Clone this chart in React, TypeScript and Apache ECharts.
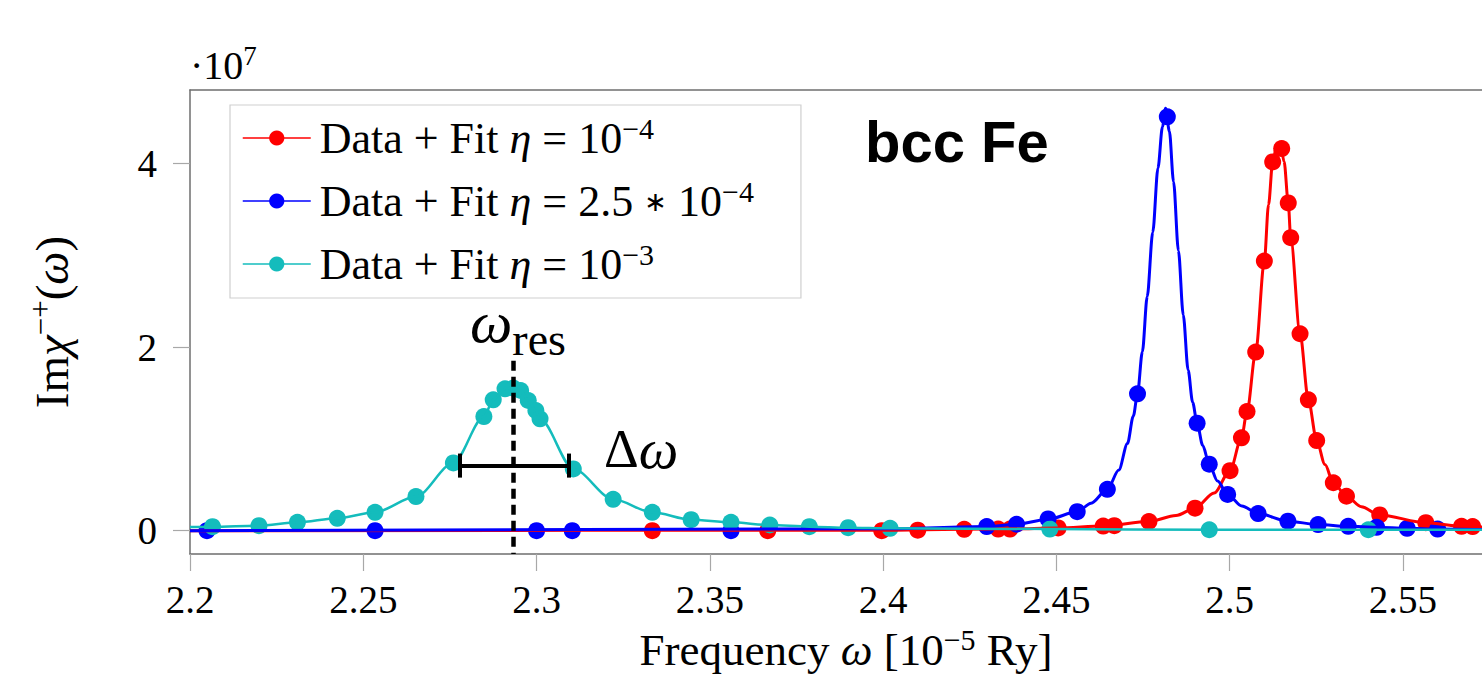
import React, { useEffect, useRef } from "react";
import * as echarts from "echarts";

const SERIF = "'Liberation Serif', 'Times New Roman', serif";
const SANS = "'Liberation Sans', Arial, sans-serif";

// axis ticks (x in 10^-5 Ry, y in 10^7)
const xTicks = [2.2, 2.25, 2.3, 2.35, 2.4, 2.45, 2.5, 2.55];
const yTicks = [0, 2, 4];
const xRange = [2.2, 2.5728];
const yRange = [-0.254, 4.8];

const seriesNames = [
  "Data + Fit η = 10⁻⁴",
  "Data + Fit η = 2.5 ∗ 10⁻⁴",
  "Data + Fit η = 10⁻³",
];
const legendRich = [
  "{t|Data + Fit }{i|η}{t| = 10}{s|−4}",
  "{t|Data + Fit }{i|η}{t| = 2.5 }{a|∗}{t| 10}{s|−4}",
  "{t|Data + Fit }{i|η}{t| = 10}{s|−3}",
];
const colors = ["#ff0000", "#0000ff", "#14bcbc"];

// eta = 1e-4 (red) data points
const redX = [2.3334, 2.3667, 2.3996, 2.41, 2.4234, 2.4332, 2.4366, 2.4505, 2.4635, 2.4667, 2.4767, 2.49, 2.5001, 2.5034, 2.505, 2.5075, 2.51, 2.5124, 2.515, 2.5169, 2.5176, 2.5203, 2.5227, 2.5251, 2.5299, 2.5337, 2.5433, 2.5566, 2.5669, 2.5701];
const redY = [0, 0, 0, 0.006, 0.015, 0.018, 0.018, 0.03, 0.05, 0.055, 0.1, 0.245, 0.654, 1.011, 1.298, 1.945, 2.937, 4.017, 4.162, 3.57, 3.192, 2.145, 1.425, 0.981, 0.522, 0.375, 0.171, 0.087, 0.047, 0.045];
// red fit curve
const redFitX = [2.2, 2.4, 2.4234, 2.4366, 2.4505, 2.4635, 2.4767, 2.4845, 2.49, 2.4955, 2.5001, 2.5034, 2.505, 2.5075, 2.51, 2.5112, 2.5124, 2.5136, 2.5146, 2.5157, 2.5169, 2.5176, 2.5203, 2.5227, 2.5251, 2.5275, 2.5299, 2.5337, 2.538, 2.5433, 2.5566, 2.5669, 2.5728];
const redFitY = [0, 0.005, 0.015, 0.02, 0.03, 0.05, 0.1, 0.165, 0.245, 0.41, 0.654, 1.011, 1.298, 1.945, 2.937, 3.55, 4.017, 4.2, 4.22, 4.02, 3.57, 3.192, 2.145, 1.425, 0.981, 0.72, 0.522, 0.375, 0.26, 0.171, 0.087, 0.047, 0.04];

// eta = 2.5e-4 (blue) data points
const blueX = [2.2049, 2.2534, 2.3, 2.3103, 2.3561, 2.4299, 2.4385, 2.4476, 2.456, 2.4647, 2.4734, 2.482, 2.4906, 2.4941, 2.4994, 2.5082, 2.5168, 2.5255, 2.5342, 2.5424, 2.5512, 2.56];
const blueY = [0, 0, 0, 0, 0, 0.045, 0.07, 0.128, 0.207, 0.45, 1.491, 4.508, 1.171, 0.724, 0.395, 0.186, 0.104, 0.066, 0.047, 0.037, 0.026, 0.018];
// blue fit curve
const blueFitX = [2.2, 2.4, 2.4299, 2.4385, 2.4476, 2.456, 2.46, 2.4647, 2.468, 2.4705, 2.4722, 2.4734, 2.4748, 2.4762, 2.4778, 2.4793, 2.4806, 2.4815, 2.4826, 2.4838, 2.4852, 2.4866, 2.488, 2.4893, 2.4906, 2.4922, 2.4941, 2.4965, 2.4994, 2.5035, 2.5082, 2.5168, 2.5255, 2.5342, 2.5424, 2.5512, 2.56, 2.5728];
const blueFitY = [0, 0.02, 0.045, 0.07, 0.125, 0.205, 0.3, 0.45, 0.66, 0.95, 1.25, 1.491, 1.95, 2.55, 3.25, 3.95, 4.4, 4.6, 4.35, 3.8, 3.05, 2.35, 1.75, 1.4, 1.171, 0.93, 0.724, 0.54, 0.395, 0.27, 0.186, 0.104, 0.066, 0.047, 0.037, 0.026, 0.018, 0.012];

// eta = 1e-3 (cyan) data points
const cyanX = [2.2065, 2.2199, 2.231, 2.2425, 2.2534, 2.2652, 2.276, 2.2848, 2.2875, 2.2909, 2.2933, 2.2954, 2.2976, 2.2998, 2.301, 2.3106, 2.3221, 2.3334, 2.3446, 2.3561, 2.3673, 2.3787, 2.3899, 2.402, 2.4481, 2.4941, 2.54];
const cyanY = [0.044, 0.055, 0.091, 0.135, 0.2, 0.371, 0.738, 1.243, 1.425, 1.545, 1.553, 1.527, 1.418, 1.309, 1.218, 0.673, 0.342, 0.2, 0.12, 0.091, 0.062, 0.044, 0.033, 0.026, 0.018, 0.01, 0.01];
// cyan fit curve
const cyanFitX = [2.2, 2.2065, 2.2199, 2.231, 2.2425, 2.2534, 2.2652, 2.276, 2.2848, 2.2875, 2.2909, 2.2933, 2.2954, 2.2976, 2.2998, 2.301, 2.3106, 2.3221, 2.3334, 2.3446, 2.3561, 2.3673, 2.3787, 2.3899, 2.402, 2.4481, 2.4941, 2.54, 2.5728];
const cyanFitY = [0.04, 0.044, 0.055, 0.091, 0.135, 0.2, 0.371, 0.738, 1.243, 1.425, 1.545, 1.56, 1.527, 1.418, 1.309, 1.218, 0.673, 0.342, 0.2, 0.12, 0.091, 0.062, 0.044, 0.033, 0.026, 0.018, 0.01, 0.01, 0.01];

// annotation values
const omegaRes = 2.2933;
const dashTop = 1.85;
const deltaLeft = 2.2777;
const deltaRight = 2.3092;
const deltaY = 0.709;
const capHalf = 0.131;

const zip = (xs: number[], ys: number[]) => xs.map((x, i) => [x, ys[i]]);

const textRich = (size: number, supSize: number) => ({
  t: { fontSize: size, fontFamily: SERIF, color: "#000", lineHeight: size + 6 },
  i: { fontSize: size, fontFamily: SERIF, fontStyle: "italic", color: "#000", lineHeight: size + 6 },
  a: { fontSize: size * 0.62, fontFamily: "'DejaVu Sans', sans-serif", color: "#000", lineHeight: size + 6 },
  s: { fontSize: supSize, fontFamily: SERIF, color: "#000", lineHeight: supSize * 0.7, verticalAlign: "top" },
});

export default function App() {
  const ref = useRef<HTMLDivElement>(null);

  useEffect(() => {
    document.body.style.margin = "0";
    const chart = echarts.init(ref.current!, undefined, { renderer: "svg" });

    const fits = [
      [redFitX, redFitY, redX, redY, 3],
      [blueFitX, blueFitY, blueX, blueY, 3],
      [cyanFitX, cyanFitY, cyanX, cyanY, 2.5],
    ] as any[];

    const series: any[] = [];
    fits.forEach((f, k) => {
      series.push({
        type: "line",
        name: seriesNames[k],
        data: zip(f[0], f[1]),
        symbol: "none",
        smooth: 0.3,
        smoothMonotone: "x",
        lineStyle: { color: colors[k], width: f[4] },
        itemStyle: { color: colors[k] },
        silent: true,
      });
      const s: any = {
        type: "scatter",
        name: seriesNames[k] + " (data)",
        data: zip(f[2], f[3]),
        symbol: "circle",
        symbolSize: 17,
        itemStyle: { color: colors[k], opacity: 1 },
        silent: true,
      };
      if (k === 2) {
        const black = "#000";
        s.markLine = {
          silent: true,
          symbol: "none",
          label: { show: false },
          animation: false,
          data: [
            [
              { coord: [omegaRes, dashTop], lineStyle: { color: black, width: 4.5, type: [10, 6] } },
              { coord: [omegaRes, yRange[0]] },
            ],
            [
              { coord: [deltaLeft, deltaY], lineStyle: { color: black, width: 4, type: "solid" } },
              { coord: [deltaRight, deltaY] },
            ],
            [
              { coord: [deltaLeft, deltaY - capHalf], lineStyle: { color: black, width: 4, type: "solid" } },
              { coord: [deltaLeft, deltaY + capHalf] },
            ],
            [
              { coord: [deltaRight, deltaY - capHalf], lineStyle: { color: black, width: 4, type: "solid" } },
              { coord: [deltaRight, deltaY + capHalf] },
            ],
          ],
        };
      }
      series.push(s);
    });

    const axisLineStyle = { color: "#6e6e6e", width: 1.5 };
    const tickStyle = { color: "#a8a8a8", width: 1.2 };

    chart.setOption({
      animation: false,
      backgroundColor: "#ffffff",
      grid: { left: 190, right: 0, top: 90, bottom: 122, containLabel: false },
      legend: {
        data: seriesNames,
        orient: "vertical",
        left: 230,
        top: 105,
        padding: [8, 47, 12, 12],
        itemGap: 16,
        itemWidth: 68,
        itemHeight: 19,
        backgroundColor: "#ffffff",
        borderColor: "#cfcfcf",
        borderWidth: 1.2,
        selectedMode: false,
        lineStyle: { width: 1.5 },
        formatter: (name: string) => legendRich[seriesNames.indexOf(name)],
        textStyle: { padding: [0, 0, 0, 4], rich: textRich(44, 30) },
      },
      xAxis: [
        {
          type: "value",
          min: xRange[0],
          max: xRange[1],
          name: "{t|Frequency }{i|ω}{t| [10}{s|−5}{t| Ry]}",
          nameLocation: "middle",
          nameGap: 70,
          nameTextStyle: { padding: [0, 0, 0, 20], rich: textRich(45, 30) },
          axisLine: { show: true, onZero: false, lineStyle: axisLineStyle },
          axisTick: { show: true, inside: false, length: 17, lineStyle: tickStyle, customValues: xTicks },
          axisLabel: {
            customValues: xTicks,
            margin: 26,
            fontSize: 39,
            fontFamily: SERIF,
            color: "#000",
            formatter: (v: number) => String(parseFloat(v.toFixed(2))),
          },
          splitLine: { show: false },
        },
        {
          type: "value",
          position: "top",
          min: xRange[0],
          max: xRange[1],
          axisLine: { show: true, onZero: false, lineStyle: axisLineStyle },
          axisTick: { show: false },
          axisLabel: { show: false },
          splitLine: { show: false },
        },
      ],
      yAxis: {
        type: "value",
        min: yRange[0],
        max: yRange[1],
        name: "{t|Im}{i|χ}{s|−+}{t|(}{i|ω}{t|)}",
        nameLocation: "middle",
        nameRotate: 90,
        nameGap: 112,
        nameTextStyle: { rich: textRich(47, 31) },
        axisLine: { show: true, onZero: false, lineStyle: axisLineStyle },
        axisTick: { show: true, inside: false, length: 17, lineStyle: tickStyle, customValues: yTicks },
        axisLabel: {
          customValues: yTicks,
          margin: 33,
          fontSize: 39,
          fontFamily: SERIF,
          color: "#000",
        },
        splitLine: { show: false },
      },
      graphic: [
        {
          type: "text",
          left: 190,
          top: 42,
          style: { text: "{t|·10}{s|7}", rich: textRich(40, 27) },
        },
        {
          type: "text",
          left: 865,
          top: 112,
          style: { text: "bcc Fe", font: `bold 58px ${SANS}`, fill: "#000" },
        },
        {
          type: "text",
          left: 470,
          top: 292,
          style: {
            text: "{w|ω}{r|res}",
            rich: {
              w: { fontSize: 60, fontFamily: SERIF, fontStyle: "italic", color: "#000", lineHeight: 60, verticalAlign: "bottom" },
              r: { fontSize: 46, fontFamily: SERIF, color: "#000", lineHeight: 46, verticalAlign: "bottom", padding: [0, 0, -10, 0] },
            },
          },
        },
        {
          type: "text",
          left: 604,
          top: 421,
          style: {
            text: "{d|Δ}{w|ω}",
            rich: {
              d: { fontSize: 54, fontFamily: SERIF, color: "#000", lineHeight: 56 },
              w: { fontSize: 56, fontFamily: SERIF, fontStyle: "italic", color: "#000", lineHeight: 56 },
            },
          },
        },
      ],
      series,
    });

    return () => chart.dispose();
  }, []);

  return <div ref={ref} style={{ width: 1482, height: 677 }} />;
}
